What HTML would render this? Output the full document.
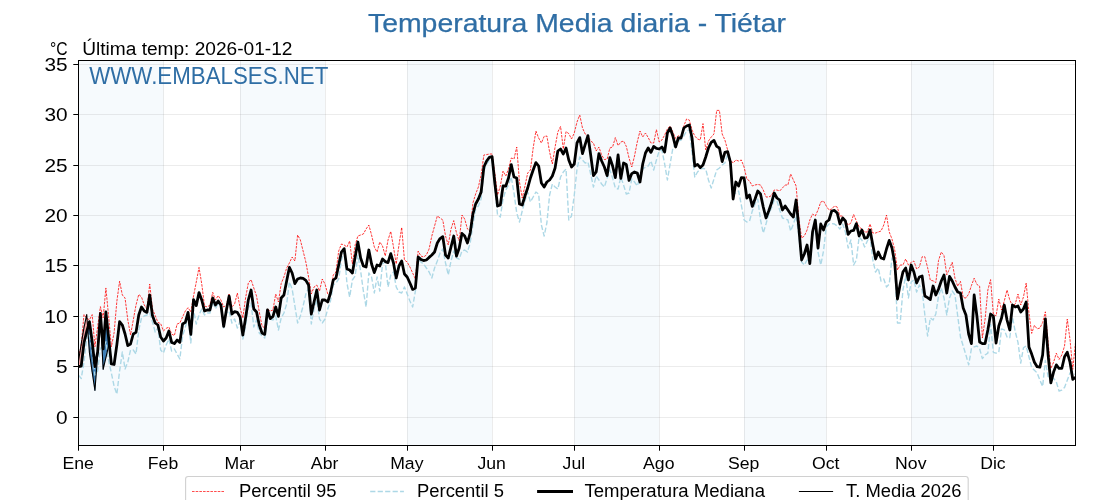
<!DOCTYPE html><html><head><meta charset="utf-8"><title>Temperatura Media diaria - Tiétar</title>
<style>html,body{margin:0;padding:0;background:#fff;}body{width:1120px;height:500px;overflow:hidden;font-family:"Liberation Sans",sans-serif;}svg{display:block;will-change:transform;}text{font-family:"Liberation Sans",sans-serif;}</style></head><body>
<svg width="1120" height="500" viewBox="0 0 1120 500">
<rect x="0" y="0" width="1120" height="500" fill="#ffffff"/>
<clipPath id="ax"><rect x="78.5" y="60.5" width="997.0" height="385.0"/></clipPath>
<g clip-path="url(#ax)">
<rect x="78.50" y="60.5" width="84.91" height="385.0" fill="#f6fafd"/>
<rect x="240.10" y="60.5" width="84.91" height="385.0" fill="#f6fafd"/>
<rect x="407.18" y="60.5" width="84.91" height="385.0" fill="#f6fafd"/>
<rect x="574.26" y="60.5" width="84.91" height="385.0" fill="#f6fafd"/>
<rect x="744.08" y="60.5" width="82.17" height="385.0" fill="#f6fafd"/>
<rect x="911.16" y="60.5" width="82.17" height="385.0" fill="#f6fafd"/>
<line x1="163.5" y1="60.5" x2="163.5" y2="445.5" stroke="#808080" stroke-opacity="0.15" stroke-width="1"/>
<line x1="240.5" y1="60.5" x2="240.5" y2="445.5" stroke="#808080" stroke-opacity="0.15" stroke-width="1"/>
<line x1="325.5" y1="60.5" x2="325.5" y2="445.5" stroke="#808080" stroke-opacity="0.15" stroke-width="1"/>
<line x1="407.5" y1="60.5" x2="407.5" y2="445.5" stroke="#808080" stroke-opacity="0.15" stroke-width="1"/>
<line x1="492.5" y1="60.5" x2="492.5" y2="445.5" stroke="#808080" stroke-opacity="0.15" stroke-width="1"/>
<line x1="574.5" y1="60.5" x2="574.5" y2="445.5" stroke="#808080" stroke-opacity="0.15" stroke-width="1"/>
<line x1="659.5" y1="60.5" x2="659.5" y2="445.5" stroke="#808080" stroke-opacity="0.15" stroke-width="1"/>
<line x1="744.5" y1="60.5" x2="744.5" y2="445.5" stroke="#808080" stroke-opacity="0.15" stroke-width="1"/>
<line x1="826.5" y1="60.5" x2="826.5" y2="445.5" stroke="#808080" stroke-opacity="0.15" stroke-width="1"/>
<line x1="911.5" y1="60.5" x2="911.5" y2="445.5" stroke="#808080" stroke-opacity="0.15" stroke-width="1"/>
<line x1="993.5" y1="60.5" x2="993.5" y2="445.5" stroke="#808080" stroke-opacity="0.15" stroke-width="1"/>
<line x1="78.5" y1="417.5" x2="1075.5" y2="417.5" stroke="#808080" stroke-opacity="0.15" stroke-width="1"/>
<line x1="78.5" y1="366.5" x2="1075.5" y2="366.5" stroke="#808080" stroke-opacity="0.15" stroke-width="1"/>
<line x1="78.5" y1="316.5" x2="1075.5" y2="316.5" stroke="#808080" stroke-opacity="0.15" stroke-width="1"/>
<line x1="78.5" y1="265.5" x2="1075.5" y2="265.5" stroke="#808080" stroke-opacity="0.15" stroke-width="1"/>
<line x1="78.5" y1="215.5" x2="1075.5" y2="215.5" stroke="#808080" stroke-opacity="0.15" stroke-width="1"/>
<line x1="78.5" y1="165.5" x2="1075.5" y2="165.5" stroke="#808080" stroke-opacity="0.15" stroke-width="1"/>
<line x1="78.5" y1="114.5" x2="1075.5" y2="114.5" stroke="#808080" stroke-opacity="0.15" stroke-width="1"/>
<line x1="78.5" y1="64.5" x2="1075.5" y2="64.5" stroke="#808080" stroke-opacity="0.15" stroke-width="1"/>
<polygon points="78.50,360.96 81.24,343.79 81.24,366.01 78.50,366.51" fill="#f4a6a6" stroke="#f4a6a6" stroke-width="0.3"/>
<polygon points="81.24,343.79 83.98,327.64 83.98,342.78 81.24,366.01" fill="#f4a6a6" stroke="#f4a6a6" stroke-width="0.3"/>
<polygon points="83.98,327.64 86.72,314.51 86.72,331.68 83.98,342.78" fill="#f4a6a6" stroke="#f4a6a6" stroke-width="0.3"/>
<polygon points="86.72,314.51 87.69,328.10 86.72,331.68" fill="#f4a6a6" stroke="#f4a6a6" stroke-width="0.3"/>
<polygon points="87.69,328.10 89.46,352.88 89.46,321.58" fill="#3a7cb4" stroke="#3a7cb4" stroke-width="0.3"/>
<polygon points="89.46,352.88 92.19,372.06 92.19,341.77 89.46,321.58" fill="#3a7cb4" stroke="#3a7cb4" stroke-width="0.3"/>
<polygon points="92.19,372.06 94.93,390.54 94.93,366.61 92.19,341.77" fill="#3a7cb4" stroke="#3a7cb4" stroke-width="0.3"/>
<polygon points="94.93,390.54 97.67,354.90 97.67,351.87 94.93,366.61" fill="#3a7cb4" stroke="#3a7cb4" stroke-width="0.3"/>
<polygon points="97.67,354.90 100.41,316.53 100.41,313.50 97.67,351.87" fill="#3a7cb4" stroke="#3a7cb4" stroke-width="0.3"/>
<polygon points="100.41,316.53 103.15,369.34 103.15,348.84 100.41,313.50" fill="#3a7cb4" stroke="#3a7cb4" stroke-width="0.3"/>
<polygon points="103.15,369.34 105.89,357.52 105.89,311.99 103.15,348.84" fill="#3a7cb4" stroke="#3a7cb4" stroke-width="0.3"/>
<polygon points="105.89,357.52 108.63,345.81 108.63,337.73 105.89,311.99" fill="#3a7cb4" stroke="#3a7cb4" stroke-width="0.3"/>
<path d="M78.50,356.92 L81.24,345.81 L83.98,314.51 L86.72,318.25 L89.46,319.86 L92.19,314.61 L94.93,346.82 L97.67,326.63 L100.41,306.63 L103.15,317.84 L105.89,287.96 L108.63,316.53 L111.37,346.82 L114.11,332.69 L116.85,301.38 L119.59,281.19 L122.32,295.00 L125.06,298.00 L127.80,320.00 L130.54,335.00 L133.28,320.00 L136.02,305.00 L138.76,294.40 L141.50,297.00 L144.24,305.00 L146.97,309.00 L149.71,284.00 L152.45,309.00 L155.19,315.60 L157.93,322.40 L160.67,323.60 L163.41,331.00 L166.15,328.40 L168.89,327.00 L171.63,334.00 L174.37,335.60 L177.10,324.00 L179.84,323.00 L182.58,317.00 L185.32,311.00 L188.06,307.60 L190.80,312.00 L193.54,296.00 L196.28,282.00 L199.02,267.40 L201.75,284.00 L204.49,306.00 L207.23,307.00 L209.97,305.00 L212.71,292.40 L215.45,300.00 L218.19,295.60 L220.93,300.00 L223.67,307.00 L226.41,305.00 L229.14,294.00 L231.88,307.00 L234.62,304.00 L237.36,293.00 L240.10,308.00 L242.84,318.00 L245.58,298.00 L248.32,283.00 L251.06,279.60 L253.80,288.00 L256.53,296.00 L259.27,312.00 L262.01,326.00 L264.75,328.00 L267.49,309.00 L270.23,311.00 L272.97,310.00 L275.71,294.00 L278.45,302.00 L281.19,283.50 L283.92,277.00 L286.66,268.00 L289.40,263.00 L292.14,257.00 L294.88,261.00 L297.62,235.00 L300.36,240.00 L303.10,251.00 L305.84,262.00 L308.58,277.00 L311.31,294.00 L314.05,287.00 L316.79,285.00 L319.53,291.00 L322.27,279.00 L325.01,284.00 L327.75,294.00 L330.49,296.00 L333.23,275.00 L335.97,272.00 L338.70,251.00 L341.44,244.00 L344.18,245.00 L346.92,247.00 L349.66,241.00 L352.40,264.00 L355.14,245.00 L357.88,236.00 L360.62,235.00 L363.36,234.00 L366.09,229.00 L368.83,225.00 L371.57,235.00 L374.31,247.00 L377.05,252.00 L379.79,242.00 L382.53,246.00 L385.27,256.00 L388.01,240.00 L390.75,231.40 L393.49,247.00 L396.22,264.00 L398.96,245.00 L401.70,227.40 L404.44,260.00 L407.18,262.00 L409.92,267.00 L412.66,273.00 L415.40,279.00 L418.14,251.00 L420.88,256.00 L423.61,257.00 L426.35,255.00 L429.09,249.00 L431.83,236.00 L434.57,226.00 L437.31,216.00 L440.05,218.00 L442.79,220.00 L445.53,236.00 L448.26,245.00 L451.00,229.00 L453.74,220.60 L456.48,233.00 L459.22,241.00 L461.96,215.00 L464.70,219.00 L467.44,229.00 L470.18,231.00 L472.92,203.00 L475.65,194.00 L478.39,187.00 L481.13,175.00 L483.87,155.00 L486.61,154.60 L489.35,154.00 L492.09,154.00 L494.83,173.00 L497.57,195.00 L500.31,186.00 L503.04,171.00 L505.78,176.00 L508.52,169.00 L511.26,158.00 L514.00,159.00 L516.74,147.00 L519.48,182.00 L522.22,198.00 L524.96,186.00 L527.70,173.00 L530.43,170.00 L533.17,148.00 L535.91,131.00 L538.65,138.00 L541.39,143.00 L544.13,136.40 L546.87,136.00 L549.61,152.00 L552.35,164.00 L555.09,147.00 L557.83,132.00 L560.56,126.40 L563.30,149.00 L566.04,131.60 L568.78,133.60 L571.52,139.00 L574.26,133.00 L577.00,122.00 L579.74,115.00 L582.48,128.00 L585.21,134.00 L587.95,136.40 L590.69,141.00 L593.43,143.00 L596.17,151.00 L598.91,147.00 L601.65,155.00 L604.39,159.60 L607.13,159.00 L609.87,148.00 L612.61,147.00 L615.34,137.60 L618.08,145.60 L620.82,142.00 L623.56,141.00 L626.30,146.40 L629.04,158.00 L631.78,167.00 L634.52,156.00 L637.26,142.00 L640.00,131.00 L642.73,137.00 L645.47,133.00 L648.21,137.60 L650.95,143.00 L653.69,143.00 L656.43,129.60 L659.17,142.00 L661.91,140.00 L664.65,135.00 L667.38,129.00 L670.12,126.00 L672.86,132.00 L675.60,138.40 L678.34,135.60 L681.08,137.00 L683.82,126.00 L686.56,119.00 L689.30,120.00 L692.04,130.00 L694.77,136.00 L697.51,139.00 L700.25,140.00 L702.99,123.60 L705.73,150.00 L708.47,141.00 L711.21,137.00 L713.95,134.00 L716.69,110.40 L719.43,110.40 L722.16,134.00 L724.90,140.00 L727.64,150.00 L730.38,160.00 L733.12,163.00 L735.86,160.00 L738.60,161.00 L741.34,160.00 L744.08,167.00 L746.82,179.00 L749.55,181.00 L752.29,186.00 L755.03,185.00 L757.77,184.40 L760.51,185.00 L763.25,190.00 L765.99,197.00 L768.73,197.00 L771.47,195.60 L774.21,190.00 L776.94,190.00 L779.68,191.00 L782.42,188.00 L785.16,185.00 L787.90,185.00 L790.64,174.00 L793.38,180.00 L796.12,186.00 L798.86,219.00 L801.60,238.00 L804.33,236.00 L807.07,230.00 L809.81,220.00 L812.55,214.00 L815.29,216.00 L818.03,210.00 L820.77,202.00 L823.51,201.00 L826.25,206.00 L828.99,210.00 L831.73,209.00 L834.46,206.00 L837.20,207.00 L839.94,216.00 L842.68,216.00 L845.42,221.00 L848.16,225.00 L850.90,223.00 L853.64,214.40 L856.38,221.00 L859.12,227.00 L861.85,229.00 L864.59,232.00 L867.33,232.00 L870.07,224.00 L872.81,233.00 L875.55,233.00 L878.29,232.00 L881.03,231.00 L883.77,225.00 L886.50,215.00 L889.24,232.00 L891.98,239.00 L894.72,250.00 L897.46,270.00 L900.20,265.00 L902.94,265.00 L905.68,259.00 L908.42,265.00 L911.16,262.40 L913.89,261.00 L916.63,269.00 L919.37,267.00 L922.11,256.80 L924.85,256.80 L927.59,267.60 L930.33,280.20 L933.07,280.80 L935.81,282.60 L938.55,260.40 L941.28,252.00 L944.02,255.60 L946.76,274.80 L949.50,268.80 L952.24,262.20 L954.98,278.40 L957.72,286.20 L960.46,281.40 L963.20,297.60 L965.94,298.00 L968.67,294.00 L971.41,285.60 L974.15,278.20 L976.89,284.40 L979.63,286.20 L982.37,338.00 L985.11,319.00 L987.85,290.00 L990.59,279.60 L993.33,314.00 L996.06,316.00 L998.80,299.00 L1001.54,310.00 L1004.28,301.00 L1007.02,290.00 L1009.76,300.00 L1012.50,306.00 L1015.24,304.00 L1017.98,294.00 L1020.72,305.00 L1023.45,297.00 L1026.19,283.00 L1028.93,312.70 L1031.67,333.39 L1034.41,325.30 L1037.15,328.89 L1039.89,327.99 L1042.63,322.60 L1045.37,311.80 L1048.11,342.39 L1050.84,368.48 L1053.58,362.19 L1056.32,353.19 L1059.06,359.49 L1061.80,354.99 L1064.54,345.99 L1067.28,319.00 L1070.02,339.69 L1072.76,369.38 L1075.50,342.39" fill="none" stroke="#ff0000" stroke-width="0.78" stroke-dasharray="2.57 1.11" stroke-linejoin="round"/>
<path d="M78.50,375.29 L81.24,378.53 L83.98,361.97 L86.72,338.74 L89.46,333.69 L92.19,351.87 L94.93,375.09 L97.67,371.05 L100.41,347.83 L103.15,347.83 L105.89,341.77 L108.63,360.96 L111.37,373.07 L114.11,386.20 L116.85,394.18 L119.59,371.05 L122.32,352.00 L125.06,369.00 L127.80,362.00 L130.54,350.00 L133.28,350.00 L136.02,354.00 L138.76,330.00 L141.50,318.00 L144.24,316.00 L146.97,315.00 L149.71,313.00 L152.45,322.00 L155.19,332.00 L157.93,328.00 L160.67,350.00 L163.41,353.00 L166.15,345.00 L168.89,339.00 L171.63,351.00 L174.37,349.00 L177.10,354.00 L179.84,359.00 L182.58,336.00 L185.32,327.00 L188.06,317.00 L190.80,343.00 L193.54,310.00 L196.28,324.00 L199.02,315.00 L201.75,309.00 L204.49,315.00 L207.23,313.00 L209.97,313.00 L212.71,302.00 L215.45,309.00 L218.19,303.00 L220.93,307.00 L223.67,328.00 L226.41,313.00 L229.14,311.00 L231.88,323.00 L234.62,319.00 L237.36,328.00 L240.10,321.00 L242.84,339.00 L245.58,326.00 L248.32,308.00 L251.06,303.00 L253.80,327.00 L256.53,320.00 L259.27,333.00 L262.01,336.00 L264.75,338.00 L267.49,320.00 L270.23,319.00 L272.97,320.00 L275.71,316.00 L278.45,330.00 L281.19,318.00 L283.92,313.00 L286.66,304.00 L289.40,282.00 L292.14,289.00 L294.88,306.00 L297.62,323.00 L300.36,316.00 L303.10,306.00 L305.84,294.00 L308.58,288.00 L311.31,324.00 L314.05,309.00 L316.79,300.00 L319.53,319.00 L322.27,323.00 L325.01,319.00 L327.75,309.00 L330.49,301.00 L333.23,285.00 L335.97,283.00 L338.70,279.00 L341.44,260.00 L344.18,251.00 L346.92,283.00 L349.66,297.00 L352.40,280.00 L355.14,276.00 L357.88,255.00 L360.62,271.00 L363.36,291.00 L366.09,307.00 L368.83,273.00 L371.57,277.00 L374.31,293.00 L377.05,277.00 L379.79,291.00 L382.53,264.00 L385.27,262.00 L388.01,287.00 L390.75,275.00 L393.49,272.00 L396.22,287.00 L398.96,292.00 L401.70,293.00 L404.44,287.00 L407.18,294.00 L409.92,301.00 L412.66,307.00 L415.40,291.00 L418.14,259.00 L420.88,262.00 L423.61,264.00 L426.35,268.00 L429.09,272.00 L431.83,278.00 L434.57,268.00 L437.31,261.00 L440.05,253.00 L442.79,249.00 L445.53,263.00 L448.26,275.00 L451.00,261.00 L453.74,251.00 L456.48,258.00 L459.22,259.00 L461.96,251.00 L464.70,250.00 L467.44,252.00 L470.18,243.00 L472.92,225.00 L475.65,209.00 L478.39,206.00 L481.13,199.00 L483.87,171.00 L486.61,164.00 L489.35,160.00 L492.09,159.00 L494.83,189.00 L497.57,215.00 L500.31,217.00 L503.04,199.00 L505.78,190.00 L508.52,185.00 L511.26,177.00 L514.00,193.00 L516.74,213.00 L519.48,222.00 L522.22,211.00 L524.96,201.00 L527.70,192.00 L530.43,202.00 L533.17,197.00 L535.91,192.00 L538.65,194.00 L541.39,225.00 L544.13,236.00 L546.87,223.00 L549.61,195.00 L552.35,184.00 L555.09,187.00 L557.83,189.00 L560.56,177.00 L563.30,172.00 L566.04,169.00 L568.78,220.00 L571.52,216.00 L574.26,195.00 L577.00,169.00 L579.74,157.00 L582.48,160.00 L585.21,163.00 L587.95,162.00 L590.69,174.00 L593.43,187.00 L596.17,176.00 L598.91,180.00 L601.65,184.00 L604.39,187.00 L607.13,178.00 L609.87,170.00 L612.61,178.00 L615.34,188.00 L618.08,189.00 L620.82,177.00 L623.56,185.00 L626.30,194.00 L629.04,193.00 L631.78,179.00 L634.52,182.00 L637.26,186.00 L640.00,178.00 L642.73,169.00 L645.47,167.00 L648.21,166.00 L650.95,161.00 L653.69,170.00 L656.43,160.00 L659.17,151.00 L661.91,150.00 L664.65,164.00 L667.38,180.00 L670.12,164.00 L672.86,148.00 L675.60,143.00 L678.34,141.00 L681.08,140.00 L683.82,136.00 L686.56,131.00 L689.30,130.00 L692.04,152.00 L694.77,177.00 L697.51,172.00 L700.25,169.00 L702.99,168.40 L705.73,169.00 L708.47,180.00 L711.21,188.00 L713.95,179.00 L716.69,170.00 L719.43,168.00 L722.16,165.00 L724.90,163.00 L727.64,154.00 L730.38,166.00 L733.12,194.00 L735.86,193.00 L738.60,191.00 L741.34,205.00 L744.08,220.00 L746.82,222.00 L749.55,221.00 L752.29,211.00 L755.03,204.00 L757.77,199.00 L760.51,220.00 L763.25,233.00 L765.99,224.00 L768.73,214.00 L771.47,208.00 L774.21,200.00 L776.94,201.00 L779.68,210.00 L782.42,218.00 L785.16,219.00 L787.90,220.00 L790.64,231.00 L793.38,224.00 L796.12,216.00 L798.86,236.00 L801.60,262.00 L804.33,265.00 L807.07,260.00 L809.81,264.00 L812.55,237.00 L815.29,226.00 L818.03,252.00 L820.77,265.00 L823.51,251.00 L826.25,227.00 L828.99,224.00 L831.73,223.60 L834.46,224.00 L837.20,226.00 L839.94,229.00 L842.68,224.00 L845.42,232.00 L848.16,248.00 L850.90,240.00 L853.64,265.00 L856.38,260.00 L859.12,237.00 L861.85,240.00 L864.59,247.00 L867.33,241.00 L870.07,236.00 L872.81,260.00 L875.55,272.00 L878.29,268.00 L881.03,281.00 L883.77,279.00 L886.50,287.00 L889.24,284.00 L891.98,258.00 L894.72,266.00 L897.46,323.00 L900.20,323.00 L902.94,290.00 L905.68,276.00 L908.42,298.00 L911.16,282.00 L913.89,280.00 L916.63,292.00 L919.37,285.00 L922.11,290.00 L924.85,315.00 L927.59,336.00 L930.33,318.00 L933.07,320.00 L935.81,314.00 L938.55,296.00 L941.28,288.00 L944.02,298.00 L946.76,315.00 L949.50,298.00 L952.24,291.00 L954.98,295.00 L957.72,316.00 L960.46,336.99 L963.20,345.99 L965.94,354.99 L968.67,364.88 L971.41,348.69 L974.15,346.89 L976.89,345.99 L979.63,348.69 L982.37,358.59 L985.11,354.99 L987.85,353.19 L990.59,324.40 L993.33,352.29 L996.06,353.19 L998.80,352.29 L1001.54,328.89 L1004.28,329.79 L1007.02,336.99 L1009.76,337.89 L1012.50,317.20 L1015.24,331.59 L1017.98,342.39 L1020.72,363.08 L1023.45,347.79 L1026.19,345.99 L1028.93,356.79 L1031.67,367.58 L1034.41,370.28 L1037.15,372.98 L1039.89,380.18 L1042.63,386.48 L1045.37,360.39 L1048.11,376.58 L1050.84,377.48 L1053.58,378.38 L1056.32,381.98 L1059.06,390.98 L1061.80,390.08 L1064.54,387.38 L1067.28,380.18 L1070.02,372.98 L1072.76,372.08 L1075.50,374.78" fill="none" stroke="#add8e6" stroke-width="1.39" stroke-dasharray="5.14 2.22" stroke-linejoin="round"/>
<path d="M78.50,366.51 L81.24,366.01 L83.98,342.78 L86.72,331.68 L89.46,321.58 L92.19,341.77 L94.93,366.61 L97.67,351.87 L100.41,313.50 L103.15,348.84 L105.89,311.99 L108.63,337.73 L111.37,363.99 L114.11,364.49 L116.85,344.80 L119.59,321.58 L122.32,325.00 L125.06,334.00 L127.80,345.60 L130.54,344.00 L133.28,334.00 L136.02,332.40 L138.76,315.00 L141.50,307.00 L144.24,311.00 L146.97,312.40 L149.71,295.00 L152.45,315.60 L155.19,323.00 L157.93,325.00 L160.67,337.00 L163.41,341.00 L166.15,338.00 L168.89,331.00 L171.63,342.40 L174.37,343.60 L177.10,340.00 L179.84,342.40 L182.58,324.00 L185.32,322.40 L188.06,312.40 L190.80,334.40 L193.54,299.60 L196.28,305.60 L199.02,292.60 L201.75,300.00 L204.49,311.00 L207.23,310.00 L209.97,310.00 L212.71,298.00 L215.45,305.00 L218.19,301.00 L220.93,305.00 L223.67,326.40 L226.41,310.00 L229.14,296.00 L231.88,314.00 L234.62,311.60 L237.36,312.40 L240.10,317.00 L242.84,335.00 L245.58,318.00 L248.32,300.00 L251.06,290.00 L253.80,309.00 L256.53,312.00 L259.27,325.00 L262.01,333.00 L264.75,334.40 L267.49,310.00 L270.23,318.60 L272.97,316.40 L275.71,307.00 L278.45,316.40 L281.19,298.00 L283.92,295.00 L286.66,281.00 L289.40,267.40 L292.14,273.00 L294.88,283.60 L297.62,279.00 L300.36,278.00 L303.10,278.40 L305.84,280.40 L308.58,285.00 L311.31,314.00 L314.05,302.00 L316.79,290.00 L319.53,310.00 L322.27,300.00 L325.01,300.00 L327.75,302.00 L330.49,293.00 L333.23,280.00 L335.97,278.00 L338.70,265.00 L341.44,252.00 L344.18,248.60 L346.92,269.00 L349.66,270.00 L352.40,273.00 L355.14,257.00 L357.88,242.00 L360.62,258.00 L363.36,266.00 L366.09,267.00 L368.83,250.00 L371.57,264.00 L374.31,272.60 L377.05,265.00 L379.79,266.00 L382.53,259.00 L385.27,261.60 L388.01,262.60 L390.75,253.60 L393.49,263.00 L396.22,278.00 L398.96,266.00 L401.70,261.00 L404.44,274.00 L407.18,277.00 L409.92,283.00 L412.66,289.40 L415.40,288.00 L418.14,257.00 L420.88,259.40 L423.61,260.60 L426.35,260.00 L429.09,257.40 L431.83,255.00 L434.57,252.00 L437.31,243.00 L440.05,238.60 L442.79,236.60 L445.53,255.00 L448.26,258.00 L451.00,247.00 L453.74,236.00 L456.48,256.00 L459.22,248.00 L461.96,233.40 L464.70,236.00 L467.44,243.00 L470.18,233.00 L472.92,214.00 L475.65,204.00 L478.39,199.00 L481.13,192.00 L483.87,167.00 L486.61,161.00 L489.35,157.40 L492.09,156.60 L494.83,183.00 L497.57,206.00 L500.31,205.00 L503.04,186.00 L505.78,186.00 L508.52,178.00 L511.26,164.60 L514.00,177.00 L516.74,178.00 L519.48,204.00 L522.22,205.00 L524.96,196.00 L527.70,188.00 L530.43,178.00 L533.17,170.00 L535.91,162.60 L538.65,166.00 L541.39,183.00 L544.13,187.00 L546.87,182.00 L549.61,180.00 L552.35,176.00 L555.09,168.00 L557.83,151.00 L560.56,149.00 L563.30,154.00 L566.04,148.00 L568.78,160.00 L571.52,167.00 L574.26,164.00 L577.00,143.00 L579.74,137.60 L582.48,153.60 L585.21,144.40 L587.95,135.60 L590.69,155.00 L593.43,175.60 L596.17,172.00 L598.91,153.60 L601.65,161.00 L604.39,167.00 L607.13,175.60 L609.87,157.60 L612.61,166.00 L615.34,177.60 L618.08,155.00 L620.82,178.40 L623.56,163.00 L626.30,164.40 L629.04,180.40 L631.78,173.60 L634.52,172.00 L637.26,173.00 L640.00,182.00 L642.73,164.00 L645.47,153.00 L648.21,148.00 L650.95,152.40 L653.69,146.40 L656.43,148.40 L659.17,149.00 L661.91,147.00 L664.65,152.00 L667.38,133.00 L670.12,128.00 L672.86,136.00 L675.60,147.00 L678.34,138.00 L681.08,138.00 L683.82,128.00 L686.56,126.00 L689.30,125.00 L692.04,138.00 L694.77,166.00 L697.51,164.40 L700.25,167.60 L702.99,165.00 L705.73,157.00 L708.47,148.00 L711.21,142.40 L713.95,140.40 L716.69,146.40 L719.43,148.00 L722.16,161.60 L724.90,152.40 L727.64,151.60 L730.38,162.00 L733.12,199.00 L735.86,182.00 L738.60,186.00 L741.34,177.60 L744.08,178.00 L746.82,198.00 L749.55,195.00 L752.29,206.40 L755.03,199.00 L757.77,191.00 L760.51,194.00 L763.25,207.00 L765.99,218.00 L768.73,211.00 L771.47,203.00 L774.21,193.00 L776.94,198.00 L779.68,200.00 L782.42,210.00 L785.16,206.00 L787.90,210.00 L790.64,214.00 L793.38,217.00 L796.12,200.00 L798.86,228.00 L801.60,260.00 L804.33,254.00 L807.07,245.00 L809.81,263.60 L812.55,232.00 L815.29,220.00 L818.03,248.00 L820.77,224.00 L823.51,230.00 L826.25,222.00 L828.99,220.00 L831.73,211.00 L834.46,210.40 L837.20,213.00 L839.94,224.00 L842.68,218.00 L845.42,221.00 L848.16,234.40 L850.90,231.00 L853.64,230.40 L856.38,223.60 L859.12,236.00 L861.85,230.00 L864.59,238.00 L867.33,237.60 L870.07,230.00 L872.81,245.00 L875.55,259.00 L878.29,252.00 L881.03,258.00 L883.77,259.00 L886.50,249.00 L889.24,240.40 L891.98,248.00 L894.72,263.00 L897.46,299.00 L900.20,284.00 L902.94,272.00 L905.68,268.00 L908.42,280.00 L911.16,265.00 L913.89,272.00 L916.63,283.00 L919.37,277.00 L922.11,276.00 L924.85,296.00 L927.59,297.60 L930.33,299.60 L933.07,286.00 L935.81,295.00 L938.55,289.00 L941.28,281.00 L944.02,275.00 L946.76,293.00 L949.50,276.40 L952.24,281.00 L954.98,287.00 L957.72,292.00 L960.46,293.00 L963.20,308.00 L965.94,315.00 L968.67,334.00 L971.41,343.60 L974.15,295.00 L976.89,316.00 L979.63,342.00 L982.37,343.60 L985.11,343.60 L987.85,330.00 L990.59,314.00 L993.33,316.00 L996.06,343.00 L998.80,326.00 L1001.54,318.00 L1004.28,305.00 L1007.02,320.00 L1009.76,330.00 L1012.50,305.00 L1015.24,307.00 L1017.98,306.00 L1020.72,312.00 L1023.45,309.00 L1026.19,302.00 L1028.93,346.89 L1031.67,354.09 L1034.41,362.19 L1037.15,366.68 L1039.89,367.22 L1042.63,354.99 L1045.37,319.00 L1048.11,354.99 L1050.84,382.88 L1053.58,372.08 L1056.32,364.88 L1059.06,368.48 L1061.80,368.48 L1064.54,356.79 L1067.28,352.29 L1070.02,362.19 L1072.76,379.28 L1075.50,377.48" fill="none" stroke="#000000" stroke-width="2.78" stroke-linejoin="round" stroke-linecap="butt"/>
<path d="M78.50,360.96 L81.24,343.79 L83.98,327.64 L86.72,314.51 L89.46,352.88 L92.19,372.06 L94.93,390.54 L97.67,354.90 L100.41,316.53 L103.15,369.34 L105.89,357.52 L108.63,345.81" fill="none" stroke="#000000" stroke-width="1.1" stroke-linejoin="round"/>
</g>
<rect x="78.5" y="60.5" width="997.0" height="385.0" fill="none" stroke="#000" stroke-width="1"/>
<line x1="78.5" y1="445.5" x2="78.5" y2="450.7" stroke="#000" stroke-width="1"/>
<text transform="translate(78.1,469) scale(1.02,1)" font-size="17.3" text-anchor="middle" fill="#000">Ene</text>
<line x1="163.5" y1="445.5" x2="163.5" y2="450.7" stroke="#000" stroke-width="1"/>
<text transform="translate(163.0,469) scale(1.02,1)" font-size="17.3" text-anchor="middle" fill="#000">Feb</text>
<line x1="240.5" y1="445.5" x2="240.5" y2="450.7" stroke="#000" stroke-width="1"/>
<text transform="translate(239.7,469) scale(1.02,1)" font-size="17.3" text-anchor="middle" fill="#000">Mar</text>
<line x1="325.5" y1="445.5" x2="325.5" y2="450.7" stroke="#000" stroke-width="1"/>
<text transform="translate(324.6,469) scale(1.02,1)" font-size="17.3" text-anchor="middle" fill="#000">Abr</text>
<line x1="407.5" y1="445.5" x2="407.5" y2="450.7" stroke="#000" stroke-width="1"/>
<text transform="translate(406.8,469) scale(1.02,1)" font-size="17.3" text-anchor="middle" fill="#000">May</text>
<line x1="492.5" y1="445.5" x2="492.5" y2="450.7" stroke="#000" stroke-width="1"/>
<text transform="translate(491.7,469) scale(1.02,1)" font-size="17.3" text-anchor="middle" fill="#000">Jun</text>
<line x1="574.5" y1="445.5" x2="574.5" y2="450.7" stroke="#000" stroke-width="1"/>
<text transform="translate(573.9,469) scale(1.02,1)" font-size="17.3" text-anchor="middle" fill="#000">Jul</text>
<line x1="659.5" y1="445.5" x2="659.5" y2="450.7" stroke="#000" stroke-width="1"/>
<text transform="translate(658.8,469) scale(1.02,1)" font-size="17.3" text-anchor="middle" fill="#000">Ago</text>
<line x1="744.5" y1="445.5" x2="744.5" y2="450.7" stroke="#000" stroke-width="1"/>
<text transform="translate(743.7,469) scale(1.02,1)" font-size="17.3" text-anchor="middle" fill="#000">Sep</text>
<line x1="826.5" y1="445.5" x2="826.5" y2="450.7" stroke="#000" stroke-width="1"/>
<text transform="translate(825.8,469) scale(1.02,1)" font-size="17.3" text-anchor="middle" fill="#000">Oct</text>
<line x1="911.5" y1="445.5" x2="911.5" y2="450.7" stroke="#000" stroke-width="1"/>
<text transform="translate(910.8,469) scale(1.02,1)" font-size="17.3" text-anchor="middle" fill="#000">Nov</text>
<line x1="993.5" y1="445.5" x2="993.5" y2="450.7" stroke="#000" stroke-width="1"/>
<text transform="translate(992.9,469) scale(1.02,1)" font-size="17.3" text-anchor="middle" fill="#000">Dic</text>
<line x1="73.3" y1="417.5" x2="78.5" y2="417.5" stroke="#000" stroke-width="1"/>
<text transform="translate(67.6,424.0) scale(1.12,1)" font-size="18.6" text-anchor="end" fill="#000">0</text>
<line x1="73.3" y1="366.5" x2="78.5" y2="366.5" stroke="#000" stroke-width="1"/>
<text transform="translate(67.6,373.0) scale(1.12,1)" font-size="18.6" text-anchor="end" fill="#000">5</text>
<line x1="73.3" y1="316.5" x2="78.5" y2="316.5" stroke="#000" stroke-width="1"/>
<text transform="translate(67.6,323.0) scale(1.12,1)" font-size="18.6" text-anchor="end" fill="#000">10</text>
<line x1="73.3" y1="265.5" x2="78.5" y2="265.5" stroke="#000" stroke-width="1"/>
<text transform="translate(67.6,272.0) scale(1.12,1)" font-size="18.6" text-anchor="end" fill="#000">15</text>
<line x1="73.3" y1="215.5" x2="78.5" y2="215.5" stroke="#000" stroke-width="1"/>
<text transform="translate(67.6,222.0) scale(1.12,1)" font-size="18.6" text-anchor="end" fill="#000">20</text>
<line x1="73.3" y1="165.5" x2="78.5" y2="165.5" stroke="#000" stroke-width="1"/>
<text transform="translate(67.6,172.0) scale(1.12,1)" font-size="18.6" text-anchor="end" fill="#000">25</text>
<line x1="73.3" y1="114.5" x2="78.5" y2="114.5" stroke="#000" stroke-width="1"/>
<text transform="translate(67.6,121.0) scale(1.12,1)" font-size="18.6" text-anchor="end" fill="#000">30</text>
<line x1="73.3" y1="64.5" x2="78.5" y2="64.5" stroke="#000" stroke-width="1"/>
<text transform="translate(67.6,71.0) scale(1.12,1)" font-size="18.6" text-anchor="end" fill="#000">35</text>
<text x="368" y="31.5" font-size="25" stroke="#2f6ea5" stroke-width="0.25" textLength="418" lengthAdjust="spacingAndGlyphs" fill="#2f6ea5">Temperatura Media diaria - Tiétar</text>
<text x="50" y="55" font-size="18" textLength="17.6" lengthAdjust="spacingAndGlyphs" fill="#000">°C</text>
<text x="82.2" y="55" font-size="18" textLength="210.3" lengthAdjust="spacingAndGlyphs" fill="#000">Última temp: 2026-01-12</text>
<text x="89.3" y="84" font-size="23.3" textLength="239" lengthAdjust="spacingAndGlyphs" fill="#2f6ea5">WWW.EMBALSES.NET</text>
<rect x="185.6" y="476.5" width="782.6" height="40" rx="2.6" ry="2.6" fill="#ffffff" fill-opacity="0.8" stroke="#d0d0d0" stroke-width="1.1"/>
<line x1="192" y1="491.5" x2="225" y2="491.5" stroke="#ff0000" stroke-width="0.7" stroke-dasharray="2.57 1.11"/>
<line x1="370.2" y1="491.5" x2="403.9" y2="491.5" stroke="#add8e6" stroke-width="1.39" stroke-dasharray="5.2 2.27"/>
<line x1="537.1" y1="491.5" x2="573" y2="491.5" stroke="#000" stroke-width="2.9"/>
 <line x1="798.9" y1="491.5" x2="833.1" y2="491.5" stroke="#000" stroke-width="1.1"/>
<text x="239" y="497" font-size="18.9" textLength="97.5" lengthAdjust="spacingAndGlyphs" fill="#000">Percentil 95</text>
<text x="417" y="497" font-size="18.9" textLength="87" lengthAdjust="spacingAndGlyphs" fill="#000">Percentil 5</text>
<text x="584.5" y="497" font-size="18.9" textLength="180.5" lengthAdjust="spacingAndGlyphs" fill="#000">Temperatura Mediana</text>
<text x="846" y="497" font-size="18.9" textLength="115.5" lengthAdjust="spacingAndGlyphs" fill="#000">T. Media 2026</text>
</svg></body></html>
